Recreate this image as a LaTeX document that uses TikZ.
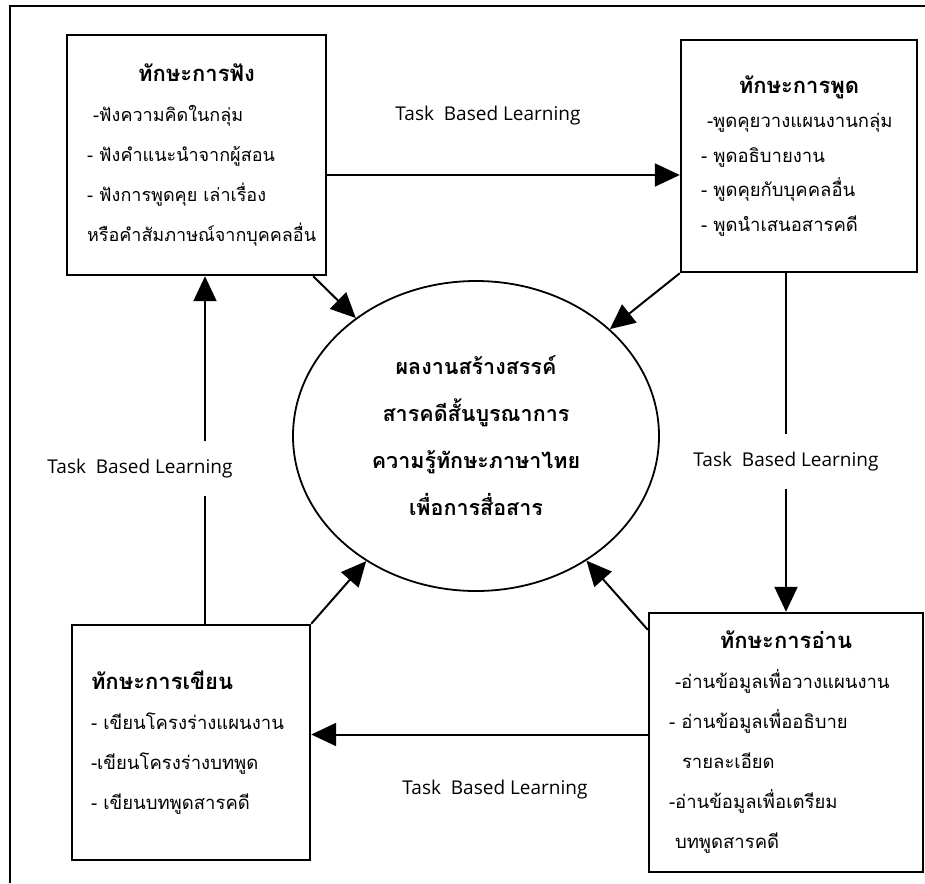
\documentclass[tikz,border=0pt]{standalone}
\usepackage{fontspec}
\setmainfont{Open Sans}
\newfontfamily\thai[Script=Thai]{Loma}
\usetikzlibrary{arrows.meta,shapes.geometric}
\setlength{\parindent}{0pt}
\newcommand\skilltitle[1]{{\bfseries\fontsize{22}{40}\selectfont #1}}
\tikzset{
  skill/.style={draw, line width=2.4pt, align=left, inner sep=0pt},
  tbl/.style={font=\fontsize{19}{22}\selectfont},
  gap/.style={tbl, fill=white, inner xsep=2pt, inner ysep=18pt},
}
\begin{document}
\begin{tikzpicture}[x=1pt, y=-1pt, line width=2pt, >={Triangle[length=25pt,width=23pt]}]
\useasboundingbox (0,0) rectangle (925,883);
\draw (10,883) -- (10,6) -- (925,6);
% the four skills
\node[skill, minimum width=259pt, minimum height=240pt, text width=219pt, font={\thai\fontsize{18}{40}\selectfont}] (fang) at (196.5,155)
  {{\centering\skilltitle{ทักษะการฟัง}\par}\hspace*{6pt}-ฟังความคิดในกลุ่ม\\- ฟังคำแนะนำจากผู้สอน\\- ฟังการพูดคุย เล่าเรื่อง\\หรือคำสัมภาษณ์จากบุคคลอื่น};
\node[skill, minimum width=236pt, minimum height=232pt, text width=196pt, font={\thai\fontsize{18.5}{34.5}\selectfont}] (phut) at (799,156)
  {{\centering\skilltitle{ทักษะการพูด}\par}\hspace*{6pt}-พูดคุยวางแผนงานกลุ่ม\\- พูดอธิบายงาน\\- พูดคุยกับบุคคลอื่น\\- พูดนำเสนอสารคดี};
\node[skill, minimum width=274pt, minimum height=259pt, text width=234pt, font={\thai\fontsize{18.5}{40}\selectfont}] (an) at (786,742.5)
  {{\centering\skilltitle{ทักษะการอ่าน}\par}\hspace*{6pt}-อ่านข้อมูลเพื่อวางแผนงาน\\- อ่านข้อมูลเพื่ออธิบาย\\\hspace*{13pt}รายละเอียด\\-อ่านข้อมูลเพื่อเตรียม\\\hspace*{6pt}บทพูดสารคดี};
\node[skill, minimum width=238pt, minimum height=235pt, text width=200pt, font={\thai\fontsize{18.5}{40}\selectfont}] (khian) at (191,742.5)
  {{\skilltitle{ทักษะการเขียน}\par}- เขียนโครงร่างแผนงาน\\-เขียนโครงร่างบทพูด\\- เขียนบทพูดสารคดี};
% the work in the middle
\node[draw, ellipse, line width=1.8pt, minimum width=366pt, minimum height=310pt, inner sep=0pt, align=center, font={\thai\bfseries\fontsize{21.5}{47}\selectfont}] (goal) at (476,436)
  {ผลงานสร้างสรรค์\\สารคดีสั้นบูรณาการ\\ความรู้ทักษะภาษาไทย\\เพื่อการสื่อสาร};
\coordinate (t1) at ([yshift=-20pt]fang.east);
\coordinate (t3) at ([yshift=8pt]an.west);
\coordinate (t4) at ([xshift=14pt]khian.north);
\path[->]
(t1) edge node[tbl, pos=0.456, yshift=59pt]{Task\ \ Based Learning} (t1 -| phut.west)
(phut.south -| an.north) edge node[gap, pos=0.557]{Task\ \ Based Learning} (an.north)
(t3) edge node[tbl, pos=0.454, yshift=-55pt]{Task\ \ Based Learning} (t3 -| khian.east)
(t4) edge node[gap, pos=0.446, xshift=-65pt]{Task\ \ Based Learning} (t4 |- fang.south)
([xshift=-14pt]fang.south east) edge (goal)
(phut.south west) edge (goal)
(khian.north east) edge (goal)
([yshift=-18pt]an.north west) edge (goal);
\end{tikzpicture}
\end{document}
